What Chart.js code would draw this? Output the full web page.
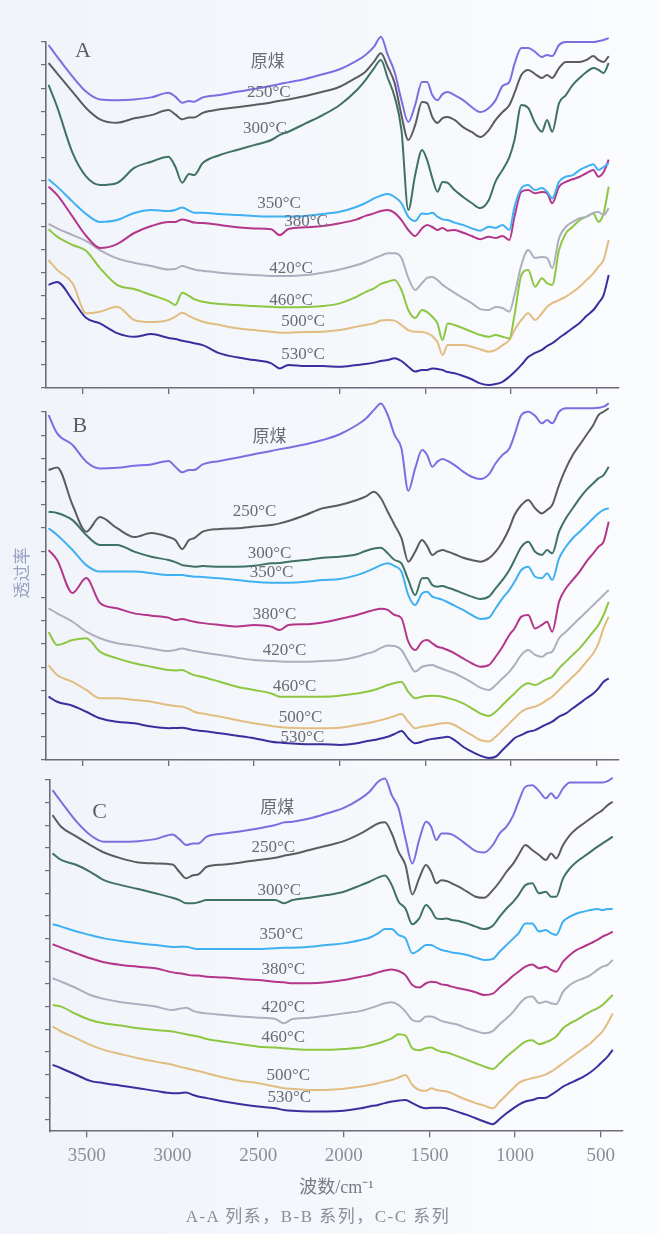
<!DOCTYPE html>
<html>
<head>
<meta charset="utf-8">
<script src="https://cdn.jsdelivr.net/npm/chart.js@4.4.1/dist/chart.umd.min.js"></script>
<style>
  html, body { margin: 0; padding: 0; }
  body {
    width: 661px; height: 1234px; position: relative; overflow: hidden;
    background: linear-gradient(90deg, #f0f4fa 0%, #f4f7fb 45%, #f8fafd 75%, #fbfcfe 100%);
  }
  .panel { position: absolute; }
  #caption {
    position: absolute; left: 0; width: 636px; top: 1207px;
    text-align: center; font: 17px "Liberation Serif", "Noto Sans CJK SC", serif;
    letter-spacing: 1.5px; color: #8a8e99; line-height: 20px;
  }
</style>
</head>
<body>
<canvas id="chartA" class="panel" width="661" height="400" style="left:0;top:0"></canvas>
<canvas id="chartB" class="panel" width="661" height="370" style="left:0;top:400px"></canvas>
<canvas id="chartC" class="panel" width="661" height="464" style="left:4px;top:770px"></canvas>
<div id="caption">A-A 列系，B-B 系列，C-C 系列</div>
<script>
// Wavenumber grid (cm-1), shared by every spectrum
const wavenumbers = [3700, 3650, 3560, 3480, 3400, 3300, 3200, 3100, 3000, 2960, 2920, 2880, 2850, 2800, 2700, 2600, 2500, 2400, 2350, 2300, 2200, 2100, 2000, 1900, 1850, 1800, 1760, 1720, 1680, 1640, 1600, 1560, 1520, 1490, 1460, 1430, 1400, 1370, 1330, 1280, 1230, 1180, 1130, 1090, 1050, 1010, 980, 940, 900, 860, 820, 790, 760, 720, 680, 640, 600, 560, 520, 490, 460, 430];

const seriesNames = ['原煤', '250°C', '300°C', '350°C', '380°C', '420°C', '460°C', '500°C', '530°C'];
const xTickValues = [3500, 3000, 2500, 2000, 1500, 1000, 500];
const yTickValues = [0, 10, 20, 30, 40, 50, 60, 70, 80, 90, 100, 110, 120, 130, 140, 150];

// ---- A series (offset transmittance) ----
const a_raw = [148.7, 143.6, 135.0, 128.4, 125.1, 124.8, 125.1, 126.0, 128.0, 126.3, 123.7, 124.4, 124.1, 126.0, 127.0, 128.4, 129.6, 131.0, 131.8, 132.5, 134.0, 136.0, 138.2, 141.9, 144.4, 148.0, 152.3, 144.4, 137.0, 124.8, 115.3, 122.7, 132.7, 132.7, 127.0, 124.8, 127.4, 128.3, 127.0, 124.8, 121.8, 119.6, 121.4, 124.8, 130.9, 132.7, 140.5, 147.4, 147.4, 145.7, 143.5, 144.4, 143.9, 148.7, 150.0, 150.0, 150.0, 150.0, 150.0, 150.4, 150.9, 151.7];
const a_250 = [140.9, 136.4, 128.4, 121.3, 116.5, 115.0, 116.9, 118.3, 120.5, 118.6, 116.5, 117.3, 117.3, 119.3, 120.8, 121.7, 122.7, 123.8, 124.5, 125.1, 126.6, 128.4, 130.6, 134.7, 137.1, 141.5, 145.1, 139.2, 132.2, 118.3, 107.5, 114.0, 124.0, 123.5, 117.5, 114.9, 117.0, 117.5, 116.2, 113.1, 111.0, 108.8, 111.8, 116.2, 119.6, 122.7, 127.9, 135.7, 137.9, 136.1, 134.4, 135.7, 134.4, 138.7, 141.3, 141.3, 141.3, 142.2, 143.9, 142.2, 141.3, 143.9];
const a_300 = [131.4, 121.9, 101.9, 91.6, 88.0, 88.9, 95.4, 98.1, 100.3, 95.9, 89.0, 92.8, 92.3, 97.5, 101.0, 103.2, 105.3, 107.5, 109.7, 111.1, 114.7, 118.3, 122.7, 129.2, 133.5, 138.6, 142.2, 134.4, 126.3, 111.8, 77.2, 92.3, 103.2, 98.8, 91.0, 85.1, 89.3, 88.9, 85.8, 82.8, 80.2, 78.0, 81.5, 89.7, 94.5, 100.1, 107.5, 122.7, 121.4, 114.9, 111.1, 116.2, 111.1, 123.5, 127.0, 131.4, 134.4, 137.0, 138.7, 137.9, 136.6, 140.9];
const a_350 = [90.5, 87.3, 80.8, 75.4, 72.0, 72.8, 75.9, 77.2, 76.7, 77.2, 78.3, 76.9, 76.0, 76.0, 75.4, 75.0, 74.6, 74.3, 74.3, 74.3, 74.6, 75.4, 76.4, 78.6, 80.2, 82.2, 83.4, 84.1, 82.8, 80.1, 74.3, 72.4, 75.7, 75.4, 76.0, 74.3, 73.1, 72.8, 71.7, 70.7, 69.2, 68.2, 69.9, 69.4, 70.7, 68.5, 78.6, 86.6, 88.0, 85.8, 86.7, 85.1, 82.2, 89.4, 91.6, 92.3, 94.5, 95.9, 97.0, 94.5, 95.8, 97.5];
const a_380 = [87.3, 83.7, 74.3, 65.9, 60.7, 62.4, 67.2, 70.2, 72.0, 72.0, 73.1, 72.4, 71.7, 71.5, 70.7, 69.7, 69.2, 68.8, 66.3, 68.9, 69.7, 70.2, 71.4, 73.1, 74.6, 75.7, 76.7, 77.2, 75.9, 72.8, 68.5, 65.9, 69.2, 70.7, 69.8, 68.5, 69.4, 68.2, 68.5, 67.3, 65.9, 64.5, 65.6, 65.0, 65.9, 64.2, 74.3, 85.1, 85.8, 84.4, 85.0, 84.5, 80.1, 87.3, 89.4, 90.5, 91.6, 93.1, 94.5, 91.6, 93.6, 99.0];
const a_420 = [71.1, 69.2, 66.3, 63.7, 59.8, 56.2, 54.3, 52.9, 51.4, 51.6, 52.9, 52.0, 51.4, 50.8, 50.0, 49.4, 49.0, 48.6, 48.6, 48.6, 49.0, 50.0, 51.4, 53.3, 54.6, 56.2, 57.4, 58.4, 58.4, 56.4, 47.7, 42.5, 45.5, 47.7, 48.1, 46.8, 44.7, 43.2, 41.2, 39.0, 36.8, 34.2, 33.8, 35.1, 34.7, 33.1, 40.3, 53.3, 59.8, 56.4, 56.8, 56.4, 52.0, 65.0, 69.9, 72.0, 73.6, 74.3, 75.9, 76.3, 75.0, 78.0];
const a_460 = [68.8, 65.6, 62.0, 59.4, 52.0, 44.7, 42.9, 40.3, 37.7, 36.0, 41.3, 39.9, 38.5, 37.4, 36.4, 36.0, 35.5, 35.2, 35.0, 35.0, 35.1, 35.5, 36.7, 39.6, 41.6, 43.2, 45.1, 46.1, 46.8, 42.5, 33.8, 30.3, 33.8, 32.9, 30.9, 28.0, 20.8, 28.0, 27.3, 25.9, 24.4, 23.0, 22.2, 23.0, 22.2, 21.5, 31.6, 49.0, 51.2, 43.9, 47.6, 45.4, 44.7, 59.8, 67.1, 69.9, 72.8, 74.3, 75.7, 72.1, 75.7, 87.3];
const a_500 = [55.5, 51.2, 45.4, 32.4, 33.1, 35.2, 29.5, 28.6, 29.5, 30.9, 32.6, 31.2, 30.2, 28.7, 27.3, 25.9, 25.1, 24.4, 24.0, 24.0, 24.3, 24.4, 25.1, 26.6, 27.3, 28.0, 29.3, 29.5, 29.2, 27.3, 25.1, 24.4, 24.3, 23.8, 22.5, 19.9, 14.3, 18.6, 18.6, 18.6, 17.9, 16.8, 15.7, 16.5, 18.6, 20.8, 25.1, 29.5, 32.4, 29.5, 32.4, 35.2, 36.8, 38.1, 39.6, 41.6, 43.9, 46.8, 49.7, 52.6, 55.5, 64.2];
const a_530 = [44.7, 46.0, 38.1, 30.3, 28.0, 23.8, 22.2, 23.4, 21.7, 21.2, 20.5, 19.9, 19.4, 18.6, 15.0, 13.3, 12.1, 10.7, 8.5, 10.0, 9.5, 9.5, 9.2, 10.0, 10.4, 11.0, 11.7, 12.1, 12.9, 11.7, 9.2, 7.1, 7.8, 7.8, 8.5, 8.2, 7.8, 6.9, 6.4, 5.2, 3.8, 2.0, 1.3, 1.7, 2.7, 4.9, 6.9, 10.0, 13.4, 15.2, 16.5, 18.2, 19.4, 21.7, 23.8, 26.0, 28.2, 31.2, 33.8, 36.8, 40.3, 49.0];

// ---- B series ----
const b_raw = [148.7, 140.8, 135.8, 128.6, 125.7, 126.0, 126.8, 127.4, 128.9, 126.4, 124.0, 125.0, 125.0, 127.4, 128.9, 130.3, 131.8, 133.2, 134.0, 134.6, 136.1, 137.9, 140.4, 144.4, 147.0, 150.9, 153.7, 148.7, 140.1, 134.3, 116.0, 125.7, 133.6, 131.5, 126.4, 128.6, 129.7, 128.9, 127.1, 124.3, 122.1, 121.1, 123.1, 127.9, 131.5, 134.3, 140.1, 148.7, 150.1, 148.4, 145.1, 146.5, 145.1, 150.1, 151.6, 151.6, 151.6, 151.6, 151.6, 151.8, 152.3, 153.7];
const b_250 = [125.0, 126.1, 109.9, 98.4, 104.7, 99.9, 96.1, 97.8, 96.1, 94.8, 90.9, 94.8, 95.6, 98.4, 99.6, 99.9, 100.6, 101.3, 102.0, 103.0, 105.6, 108.5, 109.9, 112.1, 113.5, 115.6, 112.8, 107.0, 101.3, 95.6, 85.5, 89.8, 94.8, 92.2, 88.4, 89.8, 90.5, 89.8, 88.7, 87.2, 86.2, 85.5, 86.9, 89.8, 94.1, 99.9, 105.6, 109.9, 112.1, 108.5, 106.3, 107.8, 109.9, 118.5, 125.7, 131.5, 135.8, 140.1, 144.4, 148.7, 150.1, 151.6];
const b_300 = [107.0, 106.5, 103.4, 97.0, 92.7, 92.7, 89.8, 87.6, 86.2, 85.3, 84.0, 83.6, 83.3, 83.6, 83.3, 83.3, 83.7, 84.8, 84.9, 85.5, 86.2, 87.2, 87.6, 88.7, 90.1, 91.2, 91.5, 89.1, 86.2, 84.8, 77.6, 71.1, 78.3, 78.4, 75.4, 74.7, 75.0, 74.3, 73.3, 71.8, 70.4, 69.4, 70.4, 74.0, 77.6, 81.9, 86.2, 91.9, 94.1, 89.8, 88.4, 90.5, 89.1, 98.4, 104.2, 108.5, 112.8, 116.4, 119.3, 121.4, 122.8, 126.4];
const b_350 = [99.9, 97.0, 90.5, 84.0, 81.2, 81.2, 81.2, 80.5, 79.7, 79.7, 79.7, 79.3, 79.0, 78.9, 78.3, 77.6, 76.8, 76.4, 76.4, 76.4, 76.8, 77.6, 78.0, 79.7, 81.0, 82.6, 84.0, 84.8, 83.6, 81.2, 71.1, 66.8, 71.8, 72.5, 70.4, 69.7, 69.0, 68.0, 66.5, 64.7, 62.5, 60.8, 61.3, 65.4, 69.7, 73.3, 76.8, 81.9, 83.3, 79.0, 78.3, 80.5, 77.6, 86.9, 91.9, 95.6, 98.4, 101.3, 104.2, 106.3, 107.8, 108.5];
const b_380 = [90.5, 86.2, 72.0, 78.4, 67.7, 65.4, 63.2, 62.2, 61.3, 60.3, 60.8, 60.1, 59.6, 59.0, 58.2, 57.5, 58.2, 57.5, 56.0, 58.2, 58.5, 59.3, 60.8, 62.5, 63.6, 64.7, 65.2, 64.7, 62.5, 61.1, 51.0, 47.4, 51.0, 51.7, 50.3, 48.8, 48.3, 47.4, 46.0, 43.8, 41.7, 40.2, 40.9, 44.5, 48.8, 53.9, 56.7, 61.8, 62.5, 56.7, 58.2, 59.6, 55.3, 68.2, 74.0, 77.6, 81.2, 85.5, 89.1, 91.9, 94.1, 102.7];
const b_420 = [65.4, 63.2, 59.6, 55.3, 52.5, 50.3, 49.3, 48.1, 47.0, 47.4, 48.1, 47.4, 47.0, 46.3, 45.3, 44.1, 43.1, 42.7, 42.5, 42.4, 42.4, 42.7, 43.1, 44.5, 45.7, 46.7, 48.3, 49.3, 49.1, 47.4, 42.4, 38.1, 40.2, 40.7, 40.9, 40.1, 39.2, 38.4, 37.4, 35.5, 33.5, 31.2, 30.2, 32.3, 35.2, 38.1, 40.9, 45.3, 47.4, 45.3, 44.5, 46.0, 46.7, 52.5, 55.3, 58.2, 61.1, 63.9, 66.8, 69.0, 71.1, 73.3];
const b_460 = [55.2, 49.6, 51.7, 52.5, 46.7, 43.8, 41.7, 40.2, 38.8, 38.6, 38.8, 37.5, 36.6, 35.8, 33.7, 31.6, 30.2, 28.7, 27.3, 27.3, 27.3, 27.3, 27.7, 28.7, 29.3, 30.2, 31.2, 32.3, 33.2, 33.6, 29.4, 26.6, 27.3, 27.6, 27.7, 27.6, 27.3, 26.7, 25.9, 24.4, 22.3, 20.1, 19.0, 20.8, 23.7, 26.6, 28.7, 31.6, 33.1, 32.3, 33.7, 34.9, 35.9, 39.5, 42.4, 45.3, 48.1, 51.7, 55.3, 58.2, 62.5, 68.2];
const b_500 = [40.9, 36.6, 33.7, 30.2, 26.6, 26.6, 25.9, 25.1, 23.7, 23.3, 23.0, 22.0, 20.8, 20.0, 18.7, 17.2, 15.8, 14.7, 14.2, 13.9, 13.7, 13.7, 13.9, 15.1, 15.7, 16.5, 17.2, 18.0, 19.0, 19.8, 16.5, 13.7, 14.4, 14.7, 15.1, 15.5, 15.8, 15.9, 15.1, 12.9, 10.8, 8.6, 8.0, 10.0, 12.9, 15.8, 18.0, 20.8, 22.3, 23.0, 24.4, 25.9, 27.3, 30.2, 33.1, 35.9, 38.8, 42.4, 46.0, 50.3, 56.8, 61.8];
const b_530 = [27.3, 25.1, 23.4, 20.8, 18.0, 16.5, 15.8, 14.4, 13.7, 13.8, 13.9, 13.4, 12.9, 12.5, 11.5, 10.5, 9.4, 7.9, 7.5, 7.2, 6.8, 6.8, 6.5, 7.2, 8.0, 8.6, 9.3, 10.0, 11.2, 12.5, 9.4, 7.2, 7.9, 8.6, 9.1, 9.4, 9.7, 10.0, 8.6, 5.7, 3.6, 1.9, 0.9, 1.4, 4.3, 7.2, 9.4, 10.8, 12.2, 12.9, 14.4, 15.5, 16.5, 18.7, 20.1, 22.3, 24.4, 26.6, 28.7, 30.9, 33.7, 35.2];

// ---- C series ----
const c_raw = [145.5, 140.4, 131.6, 125.7, 122.7, 122.7, 123.0, 123.9, 126.0, 123.9, 121.3, 122.0, 122.0, 125.0, 126.4, 127.4, 128.6, 130.1, 131.3, 131.6, 133.0, 135.2, 137.7, 141.9, 144.8, 149.2, 150.7, 143.3, 137.4, 124.2, 113.2, 123.5, 131.6, 129.4, 123.5, 126.4, 126.4, 126.0, 124.2, 121.3, 118.6, 118.0, 121.3, 126.4, 129.4, 134.5, 140.4, 147.0, 147.7, 145.1, 141.9, 144.1, 141.9, 146.3, 148.9, 148.9, 148.9, 148.9, 148.9, 148.9, 149.5, 151.0];
const c_250 = [134.5, 129.4, 125.0, 121.3, 118.0, 115.4, 113.6, 113.2, 112.7, 109.5, 106.6, 108.0, 108.3, 111.7, 112.7, 113.6, 114.7, 115.7, 116.6, 117.2, 119.1, 121.0, 123.0, 126.4, 128.6, 130.8, 131.3, 126.4, 118.3, 112.5, 99.5, 106.6, 112.5, 109.5, 104.4, 105.8, 105.4, 104.4, 102.9, 100.7, 98.5, 98.0, 101.4, 105.1, 109.5, 113.2, 116.9, 121.3, 119.1, 116.9, 114.7, 117.6, 115.4, 121.3, 125.7, 128.6, 130.8, 133.0, 135.2, 136.7, 138.9, 140.4];
const c_300 = [117.6, 114.7, 112.5, 109.5, 105.8, 103.6, 101.9, 100.0, 98.0, 97.0, 95.6, 95.6, 96.0, 97.0, 97.0, 97.0, 97.0, 97.0, 95.6, 97.0, 98.0, 99.2, 100.7, 103.6, 105.1, 106.9, 107.8, 103.6, 96.3, 93.3, 86.3, 88.9, 94.8, 92.6, 88.9, 88.6, 88.9, 88.2, 87.8, 86.7, 85.3, 84.2, 85.7, 89.7, 93.3, 96.3, 99.2, 103.6, 104.4, 100.0, 100.7, 98.5, 98.5, 106.6, 111.0, 113.9, 116.1, 118.3, 120.5, 122.0, 123.5, 125.0];
const c_350 = [86.3, 85.3, 83.1, 81.6, 80.1, 78.9, 77.9, 77.2, 76.3, 76.4, 76.4, 75.7, 75.4, 75.4, 75.4, 75.4, 75.4, 75.7, 76.0, 76.0, 76.4, 77.2, 77.9, 79.4, 80.4, 82.3, 84.2, 84.2, 81.6, 80.1, 73.5, 75.0, 77.2, 77.2, 76.0, 75.0, 74.5, 73.9, 73.5, 72.8, 71.6, 70.6, 71.0, 74.2, 77.2, 80.1, 82.3, 86.7, 86.7, 83.1, 83.8, 82.3, 81.6, 87.5, 89.7, 91.1, 91.9, 92.6, 93.1, 92.6, 93.1, 93.1];
const c_380 = [77.5, 76.0, 73.5, 71.3, 69.6, 68.4, 67.6, 66.9, 65.1, 64.7, 64.2, 63.7, 63.7, 63.2, 62.8, 62.2, 61.7, 61.0, 60.7, 60.3, 60.3, 60.7, 61.7, 63.2, 63.9, 65.1, 65.9, 66.4, 65.7, 63.9, 59.5, 58.4, 60.3, 61.0, 60.7, 59.8, 59.5, 58.8, 58.1, 57.3, 56.3, 55.1, 55.7, 58.4, 61.0, 63.7, 65.4, 67.6, 68.6, 66.9, 67.6, 66.2, 65.4, 69.8, 72.8, 75.0, 76.4, 77.9, 79.4, 80.9, 81.9, 83.1];
const c_420 = [62.5, 61.0, 58.1, 55.1, 53.4, 51.9, 51.0, 50.0, 48.5, 49.0, 49.5, 48.1, 47.5, 47.0, 46.3, 45.6, 45.1, 44.5, 42.6, 44.5, 45.1, 46.0, 47.0, 48.1, 49.2, 50.4, 51.5, 51.9, 50.7, 47.8, 44.1, 43.4, 45.6, 45.6, 44.8, 43.7, 43.1, 42.6, 41.9, 40.4, 39.2, 38.2, 39.2, 42.2, 44.8, 47.8, 50.7, 53.7, 54.4, 51.5, 52.2, 51.5, 51.0, 56.6, 59.5, 61.3, 62.5, 63.9, 66.2, 67.6, 68.4, 70.6];
const c_460 = [50.7, 50.0, 46.6, 44.1, 42.6, 41.6, 40.4, 39.7, 39.0, 38.4, 37.8, 37.2, 36.8, 35.7, 34.5, 33.4, 32.3, 31.9, 31.6, 31.3, 30.9, 30.9, 31.3, 31.9, 32.8, 33.8, 34.8, 36.0, 37.8, 37.2, 31.6, 30.7, 31.6, 31.9, 30.9, 30.1, 29.8, 29.0, 27.9, 26.5, 25.0, 23.5, 22.5, 25.0, 27.9, 30.4, 32.3, 34.5, 35.1, 33.4, 34.3, 35.3, 36.8, 40.4, 42.6, 44.1, 46.0, 47.8, 49.2, 50.7, 52.9, 55.1];
const c_500 = [41.2, 39.0, 36.0, 33.1, 30.9, 29.0, 27.2, 25.7, 24.3, 23.5, 22.8, 22.1, 21.6, 20.6, 18.7, 17.2, 16.2, 14.7, 14.0, 13.7, 13.2, 13.2, 13.7, 14.7, 15.4, 16.2, 16.9, 17.6, 18.7, 19.8, 15.4, 13.2, 12.8, 14.0, 13.2, 12.8, 12.5, 11.8, 10.3, 8.8, 7.4, 6.3, 5.1, 8.1, 11.0, 14.0, 16.2, 17.6, 18.4, 19.1, 20.1, 21.3, 22.8, 25.0, 27.2, 29.4, 31.6, 33.8, 36.8, 39.0, 42.6, 47.0];
const c_530 = [24.3, 22.8, 19.8, 17.2, 16.2, 15.1, 14.0, 12.8, 11.8, 11.8, 12.1, 11.0, 10.3, 9.6, 8.1, 6.9, 5.9, 5.1, 4.4, 4.0, 3.7, 3.7, 4.0, 5.1, 5.9, 6.6, 7.4, 8.1, 8.5, 8.8, 7.4, 5.9, 5.1, 5.4, 5.4, 5.4, 5.1, 4.4, 3.4, 2.2, 0.7, -0.7, -1.9, 0.4, 2.9, 5.1, 6.6, 8.1, 8.8, 9.6, 9.8, 11.0, 12.5, 14.7, 16.2, 17.6, 19.1, 21.0, 23.5, 25.7, 27.9, 30.9];

// Where each curve name sits: [wavenumber, value]
const labelSpotsA = [[2420, 141.0], [2414, 128.3], [2437, 112.7], [2355, 79.8], [2197, 72.0], [2285, 52.0], [2285, 38.1], [2215, 28.6], [2215, 14.3]];
const labelSpotsB = [[2410, 138.8], [2498, 106.9], [2410, 88.8], [2398, 80.6], [2381, 62.5], [2323, 47.0], [2264, 31.5], [2229, 18.1], [2218, 9.9]];
const labelSpotsC = [[2388, 137.2], [2411, 120.0], [2376, 101.0], [2365, 81.6], [2353, 66.2], [2353, 49.4], [2353, 36.2], [2324, 19.4], [2318, 9.7]];

const lineColors = ['#7a6fe0', '#5c5c60', '#3f7264', '#3fb0f2', '#b3368a', '#aeaebe', '#8dc742', '#e2bd82', '#3b2e9e'];
const axisColor = '#6f6a7c';
const serif = '"Liberation Serif", "Noto Sans CJK SC", serif';

Chart.defaults.font.family = serif;

// Draws the curve names, the panel letter and (in panel B) the vertical axis name
const curveLabels = {
  id: 'curveLabels',
  afterDatasetsDraw(chart, args, opts) {
    const { ctx, scales: { x, y } } = chart;
    ctx.save();
    ctx.textAlign = 'center';
    ctx.textBaseline = 'middle';
    ctx.fillStyle = '#6b6b74';
    ctx.font = '17px ' + serif;
    opts.spots.forEach((p, i) => {
      ctx.fillText(seriesNames[i], x.getPixelForValue(p[0]), y.getPixelForValue(p[1]));
    });
    ctx.fillStyle = '#5d5d66';
    ctx.font = '22px ' + serif;
    ctx.fillText(opts.letter, x.getPixelForValue(opts.letterAt[0]), y.getPixelForValue(opts.letterAt[1]));
    if (opts.axisName) {
      // rotated name of the vertical axis, centred on the given value, left of the axis line
      ctx.translate(y.left - 19, y.getPixelForValue(opts.axisNameAt));
      ctx.rotate(-Math.PI / 2);
      ctx.fillStyle = '#97a1c0';
      ctx.font = '17px "Noto Sans CJK SC", sans-serif';
      ctx.fillText(opts.axisName, 0, 0);
    }
    ctx.restore();
  }
};

function buildPanel(id, series, cfg) {
  const datasets = series.map((vals, i) => ({
    label: seriesNames[i],
    data: wavenumbers.map((w, j) => ({ x: w, y: vals[j] })),
    borderColor: lineColors[i],
    borderWidth: 2,
    pointRadius: 0,
    fill: false,
    clip: false,
    cubicInterpolationMode: 'monotone'
  }));
  return new Chart(document.getElementById(id), {
    type: 'line',
    data: { datasets },
    plugins: [curveLabels],
    options: {
      responsive: false,
      animation: false,
      events: [],
      layout: { padding: cfg.padding },
      plugins: {
        legend: { display: false },
        tooltip: { enabled: false },
        curveLabels: {
          spots: cfg.spots, letter: cfg.letter, letterAt: cfg.letterAt,
          axisName: cfg.axisName || '', axisNameAt: cfg.axisNameAt || 0
        }
      },
      scales: {
        x: {
          type: 'linear', reverse: true, min: 370, max: 3715,
          afterBuildTicks: s => { s.ticks = xTickValues.map(v => ({ value: v })); },
          grid: { drawOnChartArea: false, tickLength: 6, color: axisColor, lineWidth: 1.3 },
          border: { color: axisColor, width: 1.6 },
          ticks: {
            display: cfg.showX, color: '#8a8e99', padding: 7, maxRotation: 0,
            font: { size: 19, family: serif },
            callback: v => String(v)
          },
          title: {
            display: cfg.showX, text: '波数/cm⁻¹', color: '#777b86',
            font: { size: 18, family: serif }, padding: { top: 3.4, bottom: 0 }
          }
        },
        y: {
          type: 'linear', min: cfg.yMin, max: 150,
          afterBuildTicks: s => { s.ticks = yTickValues.map(v => ({ value: v })); },
          grid: { drawOnChartArea: false, tickLength: 5, color: axisColor, lineWidth: 1.2 },
          border: { color: axisColor, width: 1.6 },
          ticks: { display: false }
        }
      }
    }
  });
}

buildPanel('chartA', [a_raw, a_250, a_300, a_350, a_380, a_420, a_460, a_500, a_530], {
  padding: { left: 41, right: 42, top: 42, bottom: 6 }, yMin: 0,
  spots: labelSpotsA, letter: 'A', letterAt: [3500, 146], showX: false
});
buildPanel('chartB', [b_raw, b_250, b_300, b_350, b_380, b_420, b_460, b_500, b_530], {
  padding: { left: 41, right: 42, top: 12, bottom: 4 }, yMin: 0,
  spots: labelSpotsB, letter: 'B', letterAt: [3517, 143.7], showX: false,
  axisName: '透过率', axisNameAt: 80.6
});
buildPanel('chartC', [c_raw, c_250, c_300, c_350, c_380, c_420, c_460, c_500, c_530], {
  padding: { left: 41, right: 42, top: 10, bottom: 35 }, yMin: -5,
  spots: labelSpotsC, letter: 'C', letterAt: [3426, 136], showX: true
});
</script>
</body>
</html>
